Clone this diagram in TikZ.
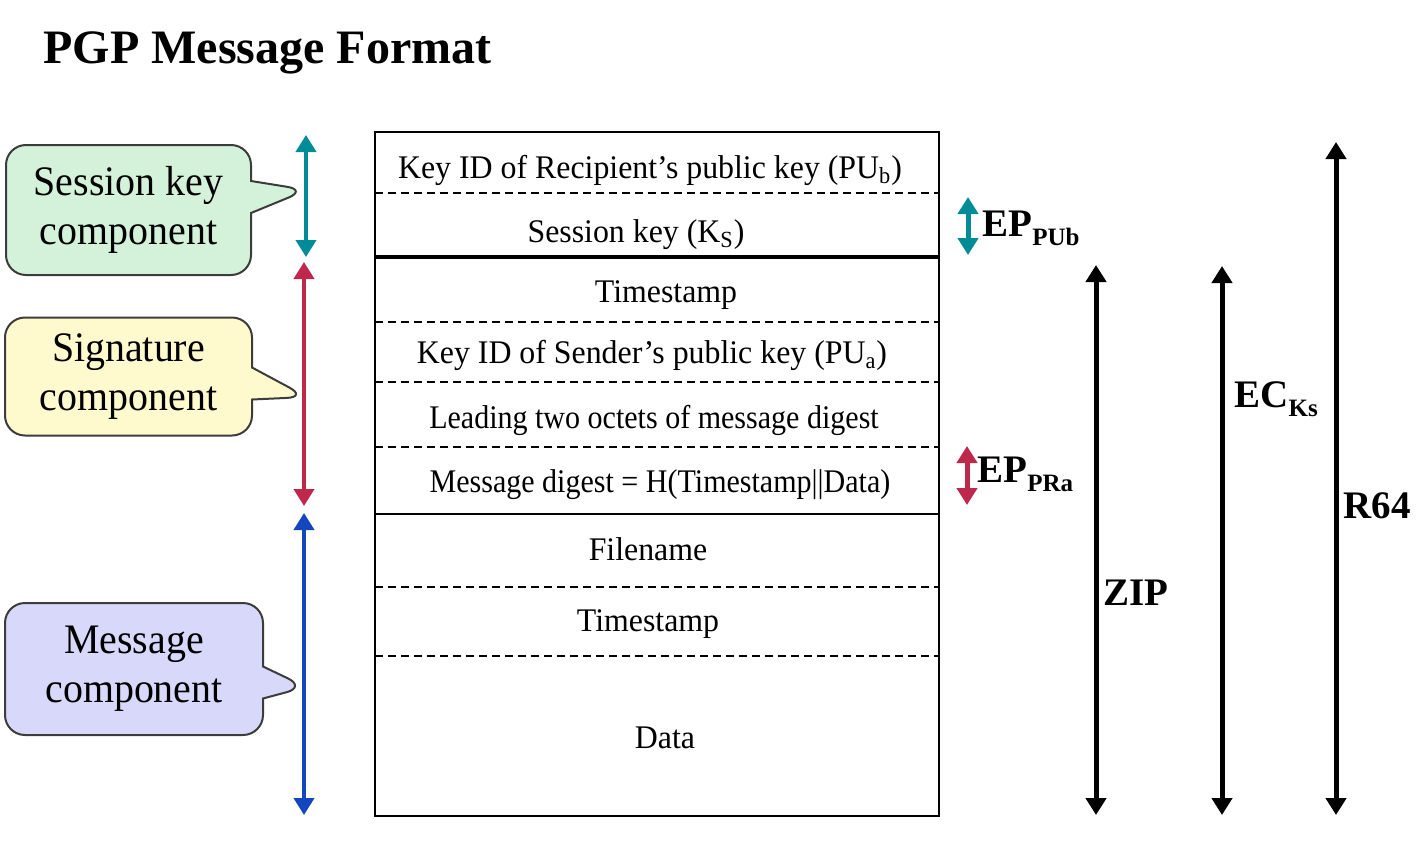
\documentclass[tikz,border=0pt]{standalone}
\usepackage{fontspec}
\setmainfont{Liberation Serif}
\newfontfamily\fieldfont[FakeStretch=0.965]{Liberation Serif}
\newfontfamily\narrowfont[FakeStretch=0.91]{Liberation Serif}
\newfontfamily\compfont[FakeStretch=0.95]{Liberation Serif}
\usetikzlibrary{arrows.meta,shapes.callouts,positioning}

\begin{document}
\begin{tikzpicture}
	[x=0.5pt,y=-0.5pt,
	fld/.style={font=\fieldfont\fontsize{16.5}{18}\selectfont,inner sep=0pt,anchor=base},
	comp/.style={rectangle callout,draw={rgb, 255:red, 60; green, 60; blue, 60},line width=1pt,rounded corners=10pt,
		align=center,font=\compfont\fontsize{21}{24.5}\selectfont,inner sep=0pt,callout pointer width=16pt},
	lbl/.style={font=\bfseries\fontsize{19.5}{20}\selectfont,inner sep=0pt,anchor=base west},
	tip/.style={{Triangle[length=8.5pt,width=10pt]}-{Triangle[length=8.5pt,width=10pt]},line width=2pt},
	big/.style={{Triangle[length=8.5pt,width=10pt]}-{Triangle[length=8.5pt,width=10pt]},line width=2.5pt,draw=black}]
	\useasboundingbox (0,0) rectangle (1428,846);
	\newcommand{\sbs}[1]{\raisebox{-4.5pt}{\fontsize{12.5}{12.5}\selectfont #1}}
	%TITLE
	\node[font=\bfseries\fontsize{24}{26}\selectfont,inner sep=0pt,anchor=base west] (title) at (43,63) {PGP Message Format};
	%FORMAT BOXES
	\draw[line width=1pt] (375,132) rectangle (939,256);
	\draw[line width=1pt] (375,258) rectangle (939,514);
	\draw[line width=1pt] (375,514) rectangle (939,816);
	\foreach \y in {193,322,382,447,587,656}
	\draw[dashed,line width=0.7pt,dash pattern=on 4pt off 2.5pt] (375,\y) -- (939,\y);
	\node[fld] (kidr) at (650,178) {Key ID of Recipient’s public key (PU\textsubscript{b})};
	\node[fld] (sk) at (636,242) {Session key (K\textsubscript{S})};
	\node[fld] (ts1) at (666,302) {Timestamp};
	\node[fld] (kids) at (652,363) {Key ID of Sender’s public key (PU\textsubscript{a})};
	\node[fld,font=\narrowfont\fontsize{16.5}{18}\selectfont] (lead) at (654,428) {Leading two octets of message digest};
	\node[fld,font=\narrowfont\fontsize{16.5}{18}\selectfont] (md) at (660,492) {Message digest = H(Timestamp||Data)};
	\node[fld] (fn) at (648,560) {Filename};
	\node[fld] (ts2) at (648,631) {Timestamp};
	\node[fld] (data) at (665,748) {Data};
	%CALLOUTS
	\coordinate (skp) at (307,190);
	\coordinate (sgp) at (307,397);
	\coordinate (msp) at (306,687);
	\node[comp,fill={rgb, 255:red, 212; green, 242; blue, 218 },minimum width=122.5pt,minimum height=65pt,
		callout absolute pointer={(skp)}] (skc) at (128.5,210) {Session key\\component};
	\node[comp,fill={rgb, 255:red, 255; green, 250; blue, 205 },minimum width=123.5pt,minimum height=59pt,
		callout absolute pointer={(sgp)}] (sgc) at (128.5,376.5) {Signature\\component};
	\node[comp,fill={rgb, 255:red, 216; green, 216; blue, 250 },minimum width=129pt,minimum height=66pt,
		callout absolute pointer={(msp)}] (msc) at (134,669) {Message\\component};
	%LEFT ARROWS
	\coordinate (skt) at (306,135);
	\coordinate (skb) at (306,257);
	\coordinate (sgt) at (304,262);
	\coordinate (sgb) at (304,506);
	\coordinate (mst) at (304,513);
	\coordinate (msb) at (304,815);
	\draw[tip,draw={rgb, 255:red, 0; green, 140; blue, 150 }] (skt) -- (skb);
	\draw[tip,draw={rgb, 255:red, 190; green, 40; blue, 75 }] (sgt) -- (sgb);
	\draw[tip,draw={rgb, 255:red, 20; green, 70; blue, 190 }] (mst) -- (msb);
	%RIGHT ARROWS
	\coordinate (ept) at (968,197);
	\coordinate (epb) at (968,255);
	\coordinate (prt) at (967,446);
	\coordinate (prb) at (967,505);
	\draw[tip,line width=2.5pt,draw={rgb, 255:red, 0; green, 140; blue, 150 }] (ept) -- (epb);
	\draw[tip,line width=2.5pt,draw={rgb, 255:red, 190; green, 40; blue, 75 }] (prt) -- (prb);
	\node[lbl] (eppub) at (982,236) {EP\sbs{PUb}};
	\node[lbl] (eppra) at (977,482) {EP\sbs{PRa}};
	\foreach \n/\x/\t in {zip/1096/265,eck/1222/266,rsf/1336/142}
	{
		\coordinate (\n t) at (\x,\t);
		\coordinate (\n b) at (\x,815);
		\draw[big] (\n b) -- (\n t);
	};
	\node[lbl] (ziplbl) at (1103,605) {ZIP};
	\node[lbl] (ecklbl) at (1234,407) {EC\sbs{Ks}};
	\node[lbl] (rsflbl) at (1343,518) {R64};
\end{tikzpicture}
\end{document}
